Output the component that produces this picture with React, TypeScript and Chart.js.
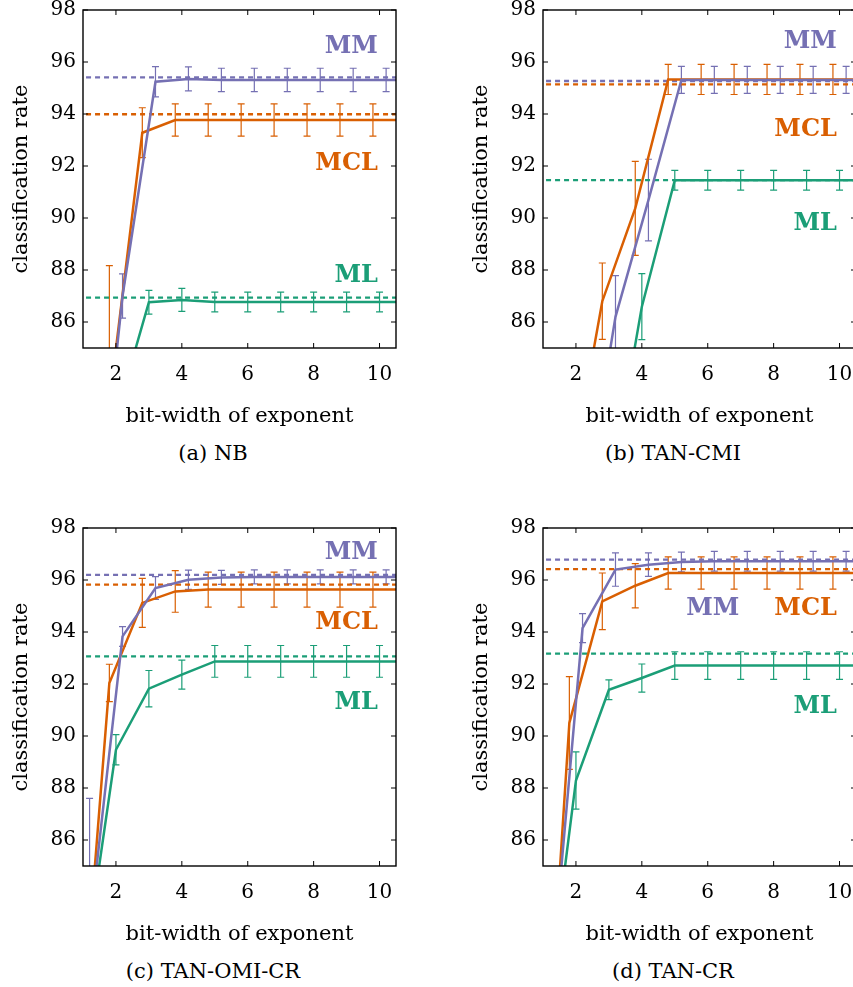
import React, { useEffect, useRef } from 'react';
import { Chart, registerables } from 'chart.js';

Chart.register(...registerables);

// ---------- data ----------
const BITS = [1, 2, 3, 4, 5, 6, 7, 8, 9, 10, 11];
const X_TICKS = [2, 4, 6, 8, 10];
const Y_TICKS = [86, 88, 90, 92, 94, 96, 98];
const METHODS = ['MM', 'MCL', 'ML'];
const X_SHIFT = [0.2, -0.2, 0]; // MM, MCL, ML horizontal offset of markers
const X_TITLE = 'bit-width of exponent';
const Y_TITLE = 'classification rate';

// (a) NB
const NB_MM = [75.0, 87.0, 95.24, 95.35, 95.31, 95.31, 95.31, 95.31, 95.31, 95.31, 95.31];
const NB_MM_ERR = [2.0, 0.85, 0.58, 0.46, 0.45, 0.45, 0.45, 0.45, 0.45, 0.45, 0.45];
const NB_MCL = [70.0, 82.9, 93.28, 93.77, 93.77, 93.77, 93.77, 93.77, 93.77, 93.77, 93.77];
const NB_MCL_ERR = [3.0, 5.27, 0.96, 0.62, 0.62, 0.62, 0.62, 0.62, 0.62, 0.62, 0.62];
const NB_ML = [75.0, 82.35, 86.76, 86.85, 86.77, 86.77, 86.77, 86.77, 86.77, 86.77, 86.77];
const NB_ML_ERR = [1.0, 1.0, 0.46, 0.44, 0.38, 0.38, 0.38, 0.38, 0.38, 0.38, 0.38];
const NB_BASE = [95.41, 93.99, 86.94];

// (b) TAN-CMI
const CMI_MM = [70.0, 78.4, 86.2, 90.69, 95.31, 95.31, 95.31, 95.31, 95.31, 95.31, 95.31];
const CMI_MM_ERR = [2.0, 2.0, 1.58, 1.57, 0.52, 0.52, 0.52, 0.52, 0.52, 0.52, 0.52];
const CMI_MCL = [70.0, 79.7, 86.8, 90.37, 95.33, 95.33, 95.33, 95.33, 95.33, 95.33, 95.33];
const CMI_MCL_ERR = [3.0, 3.0, 1.47, 1.81, 0.58, 0.58, 0.58, 0.58, 0.58, 0.58, 0.58];
const CMI_ML = [68.0, 72.0, 79.3, 86.59, 91.45, 91.45, 91.45, 91.45, 91.45, 91.45, 91.45];
const CMI_ML_ERR = [2.0, 2.0, 2.0, 1.27, 0.38, 0.38, 0.38, 0.38, 0.38, 0.38, 0.38];
const CMI_BASE = [95.27, 95.14, 91.46];

// (c) TAN-OMI-CR
const OMI_MM = [82.6, 93.83, 95.69, 96.01, 96.1, 96.12, 96.12, 96.12, 96.12, 96.12, 96.12];
const OMI_MM_ERR = [5.0, 0.38, 0.44, 0.37, 0.27, 0.27, 0.27, 0.27, 0.27, 0.27, 0.27];
const OMI_MCL = [76.0, 92.04, 95.12, 95.56, 95.63, 95.63, 95.63, 95.63, 95.63, 95.63, 95.63];
const OMI_MCL_ERR = [3.0, 0.72, 0.94, 0.8, 0.67, 0.67, 0.67, 0.67, 0.67, 0.67, 0.67];
const OMI_ML = [80.7, 89.47, 91.82, 92.36, 92.87, 92.87, 92.87, 92.87, 92.87, 92.87, 92.87];
const OMI_ML_ERR = [2.0, 0.58, 0.7, 0.56, 0.61, 0.61, 0.61, 0.61, 0.61, 0.61, 0.61];
const OMI_BASE = [96.2, 95.82, 93.06];

// (d) TAN-CR
const CR_MM = [79.85, 94.15, 96.4, 96.59, 96.69, 96.72, 96.72, 96.72, 96.72, 96.72, 96.72];
const CR_MM_ERR = [2.0, 0.56, 0.64, 0.45, 0.38, 0.38, 0.38, 0.38, 0.38, 0.38, 0.38];
const CR_MCL = [70.9, 90.5, 95.18, 95.78, 96.27, 96.27, 96.27, 96.27, 96.27, 96.27, 96.27];
const CR_MCL_ERR = [3.0, 1.78, 1.09, 0.85, 0.62, 0.62, 0.62, 0.62, 0.62, 0.62, 0.62];
const CR_ML = [78.3, 88.29, 91.78, 92.23, 92.71, 92.71, 92.71, 92.71, 92.71, 92.71, 92.71];
const CR_ML_ERR = [2.0, 1.1, 0.38, 0.54, 0.53, 0.53, 0.53, 0.53, 0.53, 0.53, 0.53];
const CR_BASE = [96.78, 96.42, 93.17];

// ---------- styles / layout ----------
const COLORS = ['#7570b3', '#d95f02', '#1b9e77'];
const FONT = '"DejaVu Serif", serif';
const PLOT_H = 338;
const AXIS_W = 83;
const XAXIS_H = 90;
const PAD_TOP = 20;
const PAD_RIGHT = 4;
const CANVAS_W = 400;
const CANVAS_H = PAD_TOP + PLOT_H + XAXIS_H;

const PANELS = [
  {
    caption: '(a) NB', left: 0, top: 10,
    series: [[NB_MM, NB_MM_ERR], [NB_MCL, NB_MCL_ERR], [NB_ML, NB_ML_ERR]], base: NB_BASE,
    labels: [[9.95, 96.59], [9.95, 92.1], [9.95, 87.77]],
  },
  {
    caption: '(b) TAN-CMI', left: 460, top: 10,
    series: [[CMI_MM, CMI_MM_ERR], [CMI_MCL, CMI_MCL_ERR], [CMI_ML, CMI_ML_ERR]], base: CMI_BASE,
    labels: [[9.92, 96.78], [9.92, 93.38], [9.92, 89.77]],
  },
  {
    caption: '(c) TAN-OMI-CR', left: 0, top: 528,
    series: [[OMI_MM, OMI_MM_ERR], [OMI_MCL, OMI_MCL_ERR], [OMI_ML, OMI_ML_ERR]], base: OMI_BASE,
    labels: [[9.95, 97.04], [9.95, 94.35], [9.95, 91.27]],
  },
  {
    caption: '(d) TAN-CR', left: 460, top: 528,
    series: [[CR_MM, CR_MM_ERR], [CR_MCL, CR_MCL_ERR], [CR_ML, CR_ML_ERR]], base: CR_BASE,
    labels: [[6.96, 94.88], [9.92, 94.88], [9.92, 91.14]],
  },
];

const zeroPadding = (s: any) => {
  s.paddingLeft = 0;
  s.paddingRight = 0;
  s.paddingTop = 0;
  s.paddingBottom = 0;
};

const decorPlugin = {
  id: 'decor',
  beforeDatasetsDraw(chart: any) {
    const { ctx, chartArea: a, scales } = chart;
    const xs = scales.x, ys = scales.y;
    ctx.save();
    ctx.beginPath();
    ctx.rect(a.left, a.top, a.right - a.left, a.bottom - a.top);
    ctx.clip();
    chart.data.datasets.forEach((ds: any) => {
      if (!ds.errorBars) return;
      ctx.strokeStyle = ds.borderColor;
      ctx.lineWidth = 1.2;
      ds.data.forEach((p: any, i: number) => {
        const e = ds.errorBars[i];
        const px = xs.getPixelForValue(p.x);
        const t = ys.getPixelForValue(p.y + e);
        const b = ys.getPixelForValue(p.y - e);
        ctx.beginPath();
        ctx.moveTo(px, t); ctx.lineTo(px, b);
        ctx.moveTo(px - 3.5, t); ctx.lineTo(px + 3.5, t);
        ctx.moveTo(px - 3.5, b); ctx.lineTo(px + 3.5, b);
        ctx.stroke();
      });
    });
    ctx.restore();
  },
  afterDatasetsDraw(chart: any) {
    const { ctx, chartArea: a, scales } = chart;
    const xs = scales.x, ys = scales.y;
    const opts = chart.options.plugins.decor;
    ctx.save();
    ctx.font = 'bold 24px ' + FONT;
    ctx.textAlign = 'right';
    ctx.textBaseline = 'middle';
    opts.labels.forEach((l: number[], i: number) => {
      ctx.fillStyle = COLORS[i];
      ctx.fillText(METHODS[i], xs.getPixelForValue(l[0]), ys.getPixelForValue(l[1]));
    });
    ctx.strokeStyle = '#000';
    ctx.lineWidth = 1.4;
    ctx.strokeRect(a.left, a.top, a.right - a.left, a.bottom - a.top);
    ctx.lineWidth = 1;
    ctx.beginPath();
    xs.ticks.forEach((t: any) => {
      const px = xs.getPixelForValue(t.value);
      ctx.moveTo(px, a.bottom); ctx.lineTo(px, a.bottom - 5);
      ctx.moveTo(px, a.top); ctx.lineTo(px, a.top + 5);
    });
    ys.ticks.forEach((t: any) => {
      const py = ys.getPixelForValue(t.value);
      ctx.moveTo(a.left, py); ctx.lineTo(a.left + 5, py);
      ctx.moveTo(a.right, py); ctx.lineTo(a.right - 5, py);
    });
    ctx.stroke();
    ctx.restore();
  },
};

function Panel({ cfg }: { cfg: any }) {
  const ref = useRef<HTMLCanvasElement>(null);
  useEffect(() => {
    if (!ref.current) return;
    const datasets: any[] = [];
    cfg.series.forEach((s: number[][], i: number) => {
      datasets.push({
        label: METHODS[i],
        data: BITS.map((b, k) => ({ x: b + X_SHIFT[i], y: s[0][k] })),
        errorBars: s[1],
        borderColor: COLORS[i],
        backgroundColor: COLORS[i],
        borderWidth: 2.5,
        pointRadius: 0,
        tension: 0,
      });
    });
    cfg.base.forEach((v: number, i: number) => {
      datasets.push({
        label: METHODS[i] + ' baseline',
        data: [{ x: 0, y: v }, { x: 12, y: v }],
        borderColor: COLORS[i],
        borderWidth: 2.3,
        borderDash: [5, 4],
        pointRadius: 0,
      });
    });
    const tickFont = { family: FONT, size: 20 };
    const titleFont = { family: FONT, size: 21 };
    const chart = new Chart(ref.current, {
      type: 'line',
      data: { datasets },
      plugins: [decorPlugin],
      options: {
        animation: false,
        responsive: false,
        layout: { padding: { top: PAD_TOP, right: PAD_RIGHT, left: 0, bottom: 0 } },
        plugins: {
          legend: { display: false },
          tooltip: { enabled: false },
          decor: { labels: cfg.labels },
        } as any,
        scales: {
          x: {
            type: 'linear', min: 1, max: 10.5,
            grid: { display: false, drawTicks: false },
            border: { display: false },
            ticks: { padding: 15, font: tickFont, color: '#000' },
            afterBuildTicks: (s: any) => { s.ticks = X_TICKS.map((v) => ({ value: v })); },
            afterFit: (s: any) => { s.height = XAXIS_H; zeroPadding(s); },
            title: { display: true, text: X_TITLE, font: titleFont, color: '#000', padding: { top: 0, bottom: 9 } },
          },
          y: {
            type: 'linear', min: 85, max: 98,
            grid: { display: false, drawTicks: false },
            border: { display: false },
            ticks: { padding: 7, font: tickFont, color: '#000' },
            afterBuildTicks: (s: any) => { s.ticks = Y_TICKS.map((v) => ({ value: v })); },
            afterFit: (s: any) => { s.width = AXIS_W; zeroPadding(s); },
            title: { display: true, text: Y_TITLE, font: titleFont, color: '#000', padding: { top: 9, bottom: 0 } },
          },
        },
      } as any,
    });
    return () => chart.destroy();
  }, [cfg]);
  return (
    <>
      <canvas
        ref={ref}
        width={CANVAS_W}
        height={CANVAS_H}
        style={{ position: 'absolute', left: cfg.left, top: cfg.top - PAD_TOP, width: CANVAS_W, height: CANVAS_H }}
      />
      <div
        style={{
          position: 'absolute', left: cfg.left + 213 - 150, width: 300, top: cfg.top + PLOT_H + 105 - 12,
          height: 24, lineHeight: '24px', textAlign: 'center', font: '21px ' + FONT, color: '#000',
        }}
      >
        {cfg.caption}
      </div>
    </>
  );
}

export default function App() {
  return (
    <div style={{ position: 'absolute', left: 0, top: 0, width: 853, height: 987, overflow: 'hidden', background: '#fff' }}>
      {PANELS.map((p, i) => (
        <Panel key={i} cfg={p} />
      ))}
    </div>
  );
}
